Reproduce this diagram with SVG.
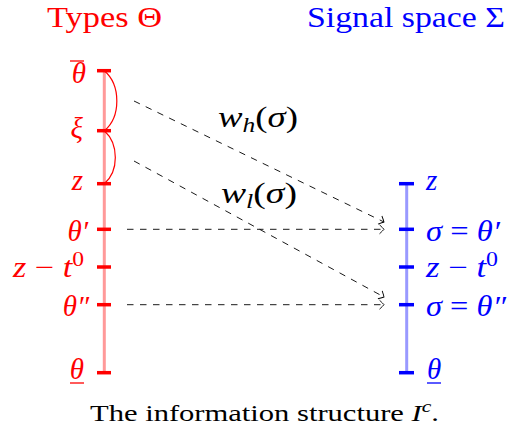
<svg xmlns="http://www.w3.org/2000/svg" width="508" height="436" viewBox="0 0 508 436">
<style>
.dash{fill:none;stroke:#000;stroke-width:0.9;stroke-dasharray:6.5 6.5}
.tick-r{stroke:#ff0000;stroke-width:3.5}
.tick-b{stroke:#0000ff;stroke-width:3.5}
</style>
<defs>
<marker id="ar" viewBox="-6 -6 8 12" markerWidth="8" markerHeight="12" refX="0" refY="0" orient="auto" markerUnits="userSpaceOnUse">
<path d="M-4.5,-4.5 Q-1,-1.2 0,0 Q-1,1.2 -4.5,4.5" fill="none" stroke="#000" stroke-width="0.9"/>
</marker>
</defs>
<g id="titles" font-family="Liberation Serif" font-size="29">
<text fill="#ff0000" x="47" y="27" textLength="115" lengthAdjust="spacingAndGlyphs">Types Θ</text>
<text fill="#0000ff" x="307" y="27" textLength="198" lengthAdjust="spacingAndGlyphs">Signal space Σ</text>
</g>
<g id="types-axis">
<line x1="104.3" y1="70.7" x2="104.3" y2="372.7" stroke="#ff9999" stroke-width="3"/>
<line class="tick-r" x1="97" y1="70.7" x2="111" y2="70.7"/>
<line class="tick-r" x1="97" y1="130.7" x2="111" y2="130.7"/>
<line class="tick-r" x1="97" y1="183.7" x2="111" y2="183.7"/>
<line class="tick-r" x1="97" y1="229.3" x2="111" y2="229.3"/>
<line class="tick-r" x1="97" y1="267" x2="111" y2="267"/>
<line class="tick-r" x1="97" y1="304.7" x2="111" y2="304.7"/>
<line class="tick-r" x1="97" y1="372.7" x2="111" y2="372.7"/>
<path d="M104.3,70.7 C121,85 121,117 104.3,130.7" fill="none" stroke="#ff0000" stroke-width="1.2"/>
<path d="M104.3,130.7 C119,144 119,171 104.3,183.7" fill="none" stroke="#ff0000" stroke-width="1.2"/>
</g>
<g id="types-labels" font-family="Liberation Serif" font-style="italic" font-size="29" fill="#ff0000" text-anchor="end">
<text x="86" y="83">θ</text>
<line x1="70" y1="61" x2="84" y2="61" stroke="#ff0000" stroke-width="1.3"/>
<text x="83" y="138">ξ</text>
<text x="83" y="190">z</text>
<text x="88" y="241">θ′</text>
<text x="84" y="277" textLength="71" lengthAdjust="spacingAndGlyphs">z <tspan font-style="normal">−</tspan> t<tspan font-style="normal" font-size="20" dy="-11">0</tspan></text>
<text x="89" y="316">θ″</text>
<text x="84" y="379">θ</text>
<line x1="70" y1="383" x2="84" y2="383" stroke="#ff0000" stroke-width="1.3"/>
</g>
<g id="signal-axis">
<line x1="406.7" y1="183.7" x2="406.7" y2="372.7" stroke="#9999ff" stroke-width="3"/>
<line class="tick-b" x1="399" y1="183.7" x2="414" y2="183.7"/>
<line class="tick-b" x1="399" y1="229.3" x2="414" y2="229.3"/>
<line class="tick-b" x1="399" y1="267" x2="414" y2="267"/>
<line class="tick-b" x1="399" y1="304.7" x2="414" y2="304.7"/>
<line class="tick-b" x1="399" y1="372.7" x2="414" y2="372.7"/>
</g>
<g id="signal-labels" font-family="Liberation Serif" font-style="italic" font-size="29" fill="#0000ff">
<text x="426" y="190">z</text>
<text x="426" y="241" textLength="74" lengthAdjust="spacingAndGlyphs">σ <tspan font-style="normal">=</tspan> θ′</text>
<text x="426" y="277" textLength="72" lengthAdjust="spacingAndGlyphs">z <tspan font-style="normal">−</tspan> t<tspan font-style="normal" font-size="20" dy="-11">0</tspan></text>
<text x="426" y="316" textLength="80" lengthAdjust="spacingAndGlyphs">σ <tspan font-style="normal">=</tspan> θ″</text>
<text x="427" y="379">θ</text>
<line x1="427" y1="383" x2="441" y2="383" stroke="#0000ff" stroke-width="1.3"/>
</g>
<g id="connectors">
<line class="dash" x1="134" y1="101" x2="384" y2="222" marker-end="url(#ar)"/>
<line class="dash" x1="134" y1="161" x2="384" y2="297" marker-end="url(#ar)"/>
<line class="dash" x1="127" y1="229.3" x2="384" y2="229.3" marker-end="url(#ar)"/>
<line class="dash" x1="127" y1="304.7" x2="384" y2="304.7" marker-end="url(#ar)"/>
</g>
<g id="connector-labels" font-family="Liberation Serif" font-style="italic" font-size="29" fill="#000">
<text x="218" y="127" textLength="80" lengthAdjust="spacingAndGlyphs">w<tspan font-size="20" dy="5">h</tspan><tspan font-style="normal" dy="-5">(</tspan>σ<tspan font-style="normal">)</tspan></text>
<text x="221" y="203" textLength="76" lengthAdjust="spacingAndGlyphs">w<tspan font-size="20" dy="5">l</tspan><tspan font-style="normal" dy="-5">(</tspan>σ<tspan font-style="normal">)</tspan></text>
</g>
<g id="caption" font-family="Liberation Serif" font-size="24" fill="#000">
<text x="90" y="421" textLength="349" lengthAdjust="spacingAndGlyphs">The information structure <tspan font-style="italic">I</tspan><tspan font-style="italic" font-size="17" dy="-9">c</tspan><tspan dy="9">.</tspan></text>
</g>
</svg>
